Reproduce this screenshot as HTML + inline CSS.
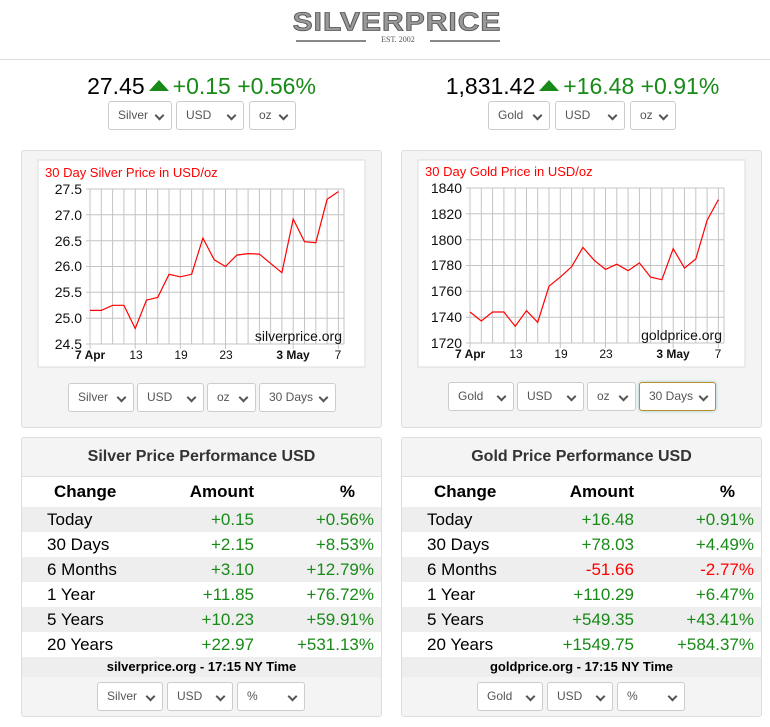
<!DOCTYPE html>
<html><head><meta charset="utf-8"><style>
*{box-sizing:border-box;margin:0;padding:0}
body{width:770px;height:727px;background:#fff;font-family:"Liberation Sans",sans-serif;position:relative;overflow:hidden}
.abs{position:absolute}
.sel{position:absolute;height:29px;border:1px solid #ccc;border-radius:3px;background:#fff;font-size:12px;color:#555;line-height:27px;padding-left:9px}
.sel::after{content:"";position:absolute;right:8px;top:10px;width:5px;height:5px;border-right:2px solid #555;border-bottom:2px solid #555;transform:rotate(45deg)}
.panel{position:absolute;background:#f4f4f4;border:1px solid #ddd;border-radius:3px}
.price{position:absolute;top:73px;font-size:23px;text-align:center;white-space:nowrap}
.g{color:#178a17}.r{color:#f00}
.tri{display:inline-block;width:0;height:0;border-left:10px solid transparent;border-right:10px solid transparent;border-bottom:11px solid #178a17;vertical-align:3px;margin:0 4px}
.tbl{position:absolute;background:#fff;border:1px solid #ddd;border-radius:3px;overflow:hidden}
.th{height:39px;background:#f4f4f4;border-bottom:1px solid #ddd;text-align:center;font-size:16px;font-weight:bold;color:#333;line-height:38px}
.row{height:25px;font-size:17px;line-height:25px;position:relative;color:#000}
.row.sh{background:#eee}
.row span{position:absolute}
.c1{left:25px}.c2{right:127px;text-align:right}.c3{right:7px;text-align:right}
.hd{height:30px;font-weight:bold;font-size:17px;line-height:30px;position:relative}
.ft{height:20px;background:#eee;text-align:center;font-weight:bold;font-size:13px;line-height:20px}
.bot{height:41px;background:#f4f4f4}
</style></head><body>
<div class="abs" style="left:292px;top:6px;width:210px;text-align:center;font-size:30px;font-weight:bold;color:#999;letter-spacing:1px;-webkit-text-stroke:1px #555;font-family:'Liberation Sans',sans-serif;transform:scaleY(0.85)">SILVERPRICE</div>
<div class="abs" style="left:296px;top:40px;width:70px;height:2px;background:#888"></div>
<div class="abs" style="left:430px;top:40px;width:70px;height:2px;background:#888"></div>
<div class="abs" style="left:366px;top:35px;width:64px;text-align:center;font-size:8px;color:#555;font-family:'Liberation Serif',serif">EST. 2002</div>
<div class="abs" style="left:0;top:59px;width:770px;height:1px;background:#ddd"></div>

<div class="price" style="left:0;width:403px"><span>27.45</span><span class="tri"></span><span class="g">+0.15 +0.56%</span></div>
<div class="price" style="left:390px;width:385px"><span>1,831.42</span><span class="tri"></span><span class="g">+16.48 +0.91%</span></div>
<div class="sel" style="left:108px;top:101px;width:64px">Silver</div>
<div class="sel" style="left:176px;top:101px;width:68px">USD</div>
<div class="sel" style="left:249px;top:101px;width:47px">oz</div>
<div class="sel" style="left:488px;top:101px;width:62px">Gold</div>
<div class="sel" style="left:555px;top:101px;width:70px">USD</div>
<div class="sel" style="left:630px;top:101px;width:46px">oz</div>

<div class="panel" style="left:21px;top:150px;width:361px;height:278px"></div>
<div class="panel" style="left:401px;top:150px;width:361px;height:278px"></div>

<svg class="abs" style="left:0;top:0" width="770" height="727">
<g id="sv">
<rect x="38" y="160" width="327" height="207" fill="#fff" stroke="#ddd"/>
<g stroke="#c4c4c4" stroke-width="1">
<path d="M90 189V349M101.3 189V344M112.6 189V344M123.9 189V344M135.2 189V349M146.5 189V344M157.7 189V344M169 189V344M180.3 189V349M191.6 189V344M202.9 189V344M214.2 189V344M225.5 189V349M236.8 189V344M248.1 189V344M259.4 189V344M270.6 189V344M281.9 189V344M293.2 189V349M304.5 189V344M315.8 189V344M327.1 189V344M338.4 189V349M344 189V344"/>
<path d="M86 189H344M86 214.8H344M86 240.7H344M86 266.5H344M86 292.3H344M86 318.2H344M86 344H344"/>
</g>
<polyline fill="none" stroke="#f00" stroke-width="1.2" points="90,310.4 101.3,310.4 112.6,305.3 123.9,305.3 135.2,328.5 146.5,300.1 157.7,297.5 169,274.3 180.3,276.8 191.6,274.3 202.9,238.1 214.2,259.8 225.5,266.5 236.8,255.1 248.1,253.6 259.4,254.1 270.6,263.4 281.9,272.7 293.2,219 304.5,241.7 315.8,242.7 327.1,199.3 338.4,191.6"/>
<text x="45" y="177" font-size="13" fill="#f00">30 Day Silver Price in USD/oz</text>
<g font-size="14" fill="#111" text-anchor="end"><text x="82" y="194">27.5</text><text x="82" y="220">27.0</text><text x="82" y="246">26.5</text><text x="82" y="271">26.0</text><text x="82" y="297">25.5</text><text x="82" y="323">25.0</text><text x="82" y="349">24.5</text></g>
<g font-size="12" fill="#111" text-anchor="middle"><text x="75" y="359" text-anchor="start" font-weight="bold">7 Apr</text><text x="136" y="359">13</text><text x="181" y="359">19</text><text x="226" y="359">23</text><text x="293" y="359" font-weight="bold">3 May</text><text x="338" y="359">7</text></g>
<text x="342" y="341" font-size="14" text-anchor="end" fill="#111">silverprice.org</text>
</g>
<g>
<rect x="418" y="160" width="327" height="207" fill="#fff" stroke="#ddd"/>
<g stroke="#c4c4c4" stroke-width="1" transform="translate(380,-1)">
<path d="M90 189V349M101.3 189V344M112.6 189V344M123.9 189V344M135.2 189V349M146.5 189V344M157.7 189V344M169 189V344M180.3 189V349M191.6 189V344M202.9 189V344M214.2 189V344M225.5 189V349M236.8 189V344M248.1 189V344M259.4 189V344M270.6 189V344M281.9 189V344M293.2 189V349M304.5 189V344M315.8 189V344M327.1 189V344M338.4 189V349M344 189V344"/>
<path d="M86 189H344M86 214.8H344M86 240.7H344M86 266.5H344M86 292.3H344M86 318.2H344M86 344H344"/>
</g>
<polyline transform="translate(380,0)" fill="none" stroke="#f00" stroke-width="1.2" points="90,312 101.3,321 112.6,312 123.9,312 135.2,326.2 146.5,310.7 157.7,322.3 169,286.2 180.3,277.1 191.6,266.8 202.9,247.4 214.2,260.3 225.5,269.4 236.8,264.2 248.1,270.7 259.4,262.9 270.6,277.1 281.9,279.7 293.2,248.7 304.5,268.1 315.8,259 327.1,220.3 338.4,199.6"/>
<text x="425" y="176" font-size="13" fill="#f00">30 Day Gold Price in USD/oz</text>
<g font-size="14" fill="#111" text-anchor="end"><text x="462" y="193">1840</text><text x="462" y="219">1820</text><text x="462" y="245">1800</text><text x="462" y="270">1780</text><text x="462" y="296">1760</text><text x="462" y="322">1740</text><text x="462" y="348">1720</text></g>
<g font-size="12" fill="#111" text-anchor="middle"><text x="455" y="358" text-anchor="start" font-weight="bold">7 Apr</text><text x="516" y="358">13</text><text x="561" y="358">19</text><text x="606" y="358">23</text><text x="673" y="358" font-weight="bold">3 May</text><text x="718" y="358">7</text></g>
<text x="722" y="340" font-size="14" text-anchor="end" fill="#111">goldprice.org</text>
</g>
</svg>

<div class="sel" style="left:68px;top:383px;width:66px">Silver</div>
<div class="sel" style="left:137px;top:383px;width:67px">USD</div>
<div class="sel" style="left:207px;top:383px;width:49px">oz</div>
<div class="sel" style="left:259px;top:383px;width:77px">30 Days</div>
<div class="sel" style="left:448px;top:382px;width:66px">Gold</div>
<div class="sel" style="left:517px;top:382px;width:67px">USD</div>
<div class="sel" style="left:587px;top:382px;width:49px">oz</div>
<div class="sel" style="left:639px;top:382px;width:77px;border-color:#b8902e;box-shadow:0 0 3px #9cc">30 Days</div>

<div class="tbl" style="left:21px;top:437px;width:361px;height:280px">
<div class="th">Silver Price Performance USD</div>
<div class="hd"><span style="position:absolute;left:32px">Change</span><span style="position:absolute;right:127px">Amount</span><span style="position:absolute;right:26px">%</span></div>
<div class="row sh"><span class="c1">Today</span><span class="c2 g">+0.15</span><span class="c3 g">+0.56%</span></div>
<div class="row"><span class="c1">30 Days</span><span class="c2 g">+2.15</span><span class="c3 g">+8.53%</span></div>
<div class="row sh"><span class="c1">6 Months</span><span class="c2 g">+3.10</span><span class="c3 g">+12.79%</span></div>
<div class="row"><span class="c1">1 Year</span><span class="c2 g">+11.85</span><span class="c3 g">+76.72%</span></div>
<div class="row sh"><span class="c1">5 Years</span><span class="c2 g">+10.23</span><span class="c3 g">+59.91%</span></div>
<div class="row"><span class="c1">20 Years</span><span class="c2 g">+22.97</span><span class="c3 g">+531.13%</span></div>
<div class="ft">silverprice.org - 17:15 NY Time</div>
<div class="bot"></div>
</div>
<div class="tbl" style="left:401px;top:437px;width:361px;height:280px">
<div class="th">Gold Price Performance USD</div>
<div class="hd"><span style="position:absolute;left:32px">Change</span><span style="position:absolute;right:127px">Amount</span><span style="position:absolute;right:26px">%</span></div>
<div class="row sh"><span class="c1">Today</span><span class="c2 g">+16.48</span><span class="c3 g">+0.91%</span></div>
<div class="row"><span class="c1">30 Days</span><span class="c2 g">+78.03</span><span class="c3 g">+4.49%</span></div>
<div class="row sh"><span class="c1">6 Months</span><span class="c2 r">-51.66</span><span class="c3 r">-2.77%</span></div>
<div class="row"><span class="c1">1 Year</span><span class="c2 g">+110.29</span><span class="c3 g">+6.47%</span></div>
<div class="row sh"><span class="c1">5 Years</span><span class="c2 g">+549.35</span><span class="c3 g">+43.41%</span></div>
<div class="row"><span class="c1">20 Years</span><span class="c2 g">+1549.75</span><span class="c3 g">+584.37%</span></div>
<div class="ft">goldprice.org - 17:15 NY Time</div>
<div class="bot"></div>
</div>
<div class="sel" style="left:97px;top:682px;width:66px">Silver</div>
<div class="sel" style="left:167px;top:682px;width:66px">USD</div>
<div class="sel" style="left:237px;top:682px;width:68px">%</div>
<div class="sel" style="left:477px;top:682px;width:66px">Gold</div>
<div class="sel" style="left:547px;top:682px;width:66px">USD</div>
<div class="sel" style="left:617px;top:682px;width:68px">%</div>
</body></html>
